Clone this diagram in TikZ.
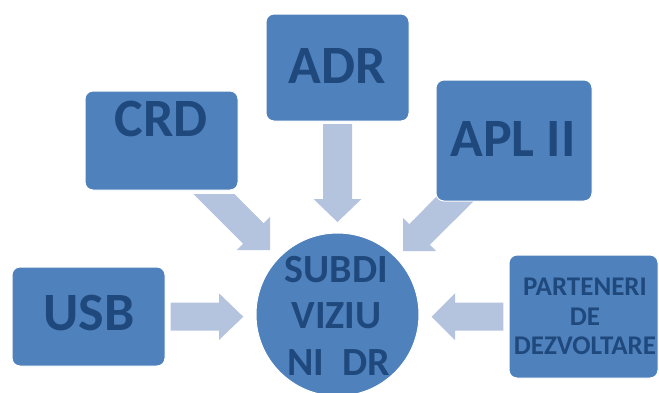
\documentclass[tikz,border=0pt]{standalone}
\usepackage{fontspec}
\setmainfont{Carlito}
\definecolor{boxblue}{HTML}{4F81BD}
\definecolor{txtblue}{HTML}{1F497D}
\definecolor{arrblue}{HTML}{B4C3DE}
\begin{document}
\begin{tikzpicture}[x=1pt,y=-1pt,
  box/.style={draw=white, line width=1pt, fill=boxblue, rounded corners=8pt, inner sep=0pt},
  hub/.style={circle, draw=white, line width=1pt, fill=boxblue, inner sep=0pt, minimum size=163pt},
  big/.style={font=\fontsize{54}{54}\selectfont\bfseries, text=txtblue, inner sep=0pt, anchor=base},
  mid/.style={font=\fontsize{40}{40}\selectfont\bfseries, text=txtblue, inner sep=0pt, anchor=base},
  small/.style={font=\fontsize{27}{27}\selectfont\bfseries, text=txtblue, inner sep=0pt, anchor=base},
  blockarrow/.style={fill=arrblue, draw=none}]
\useasboundingbox (0,0) rectangle (659,392);

% block arrows (behind boxes)
\fill[blockarrow] (193.5,194) -- (234.5,194) -- (263.65,223.15) -- (270,216.8) -- (270,250)
  -- (236.8,250) -- (243.15,243.65) -- cycle;
\fill[blockarrow] (323,124) -- (352,124) -- (352,199) -- (361.5,199) -- (337.5,222)
  -- (313.5,199) -- (323,199) -- cycle;
\fill[blockarrow] (438,195) -- (480,195) -- (429.85,244.65) -- (436.2,251) -- (403,251)
  -- (403,217.8) -- (409.35,224.15) -- cycle;
\fill[blockarrow] (170.7,302.7) -- (219,302.7) -- (219,293.3) -- (243.3,316.7) -- (219,340)
  -- (219,330.7) -- (170.7,330.7) -- cycle;
\fill[blockarrow] (503.3,302.7) -- (455,302.7) -- (455,293.3) -- (431.7,316.7) -- (455,340)
  -- (455,330.7) -- (503.3,330.7) -- cycle;

% boxes
\node[box, minimum width=153pt, minimum height=99pt] (crd) at (161.5,140.5) {};
\node[box, minimum width=143pt, minimum height=107pt] (adr) at (337.5,67.5) {};
\node[box, minimum width=156pt, minimum height=121pt] (apl) at (514,140.5) {};
\node[box, minimum width=153pt, minimum height=99pt] (usb) at (88.5,316.5) {};
\node[box, minimum width=149pt, minimum height=123pt] (part) at (583.5,316.5) {};
\node[hub] (sub) at (337.5,314.5) {};

% labels
\node[big] (crdt) at (161.5,136.5) {CRD};
\node[big] (adrt) at (337.5,83.3) {ADR};
\node[big] (aplt) at (513,156) {APL II};
\node[big] (usbt) at (89,330.5) {USB};
\node[mid] (sub1) at (336.5,282) {SUBDI};
\node[mid] (sub2) at (336.5,328) {VIZIU};
\node[mid] (sub3) at (338.5,375) {NI\ \ DR};
\node[small] (p1) at (585,295) {PARTENERI};
\node[small] (p2) at (585,325) {DE};
\node[small] (p3) at (585,354) {DEZVOLTARE};
\end{tikzpicture}
\end{document}
